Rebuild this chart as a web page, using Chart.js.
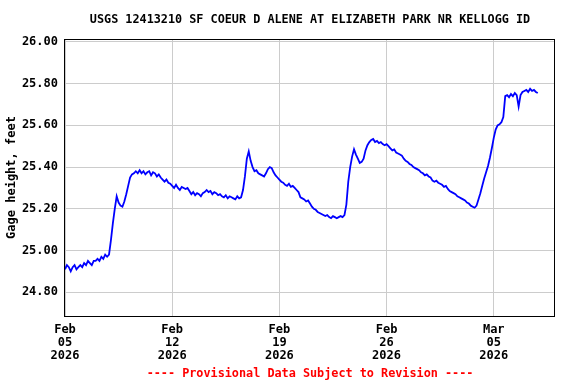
<!DOCTYPE html>
<html>
<head>
<meta charset="utf-8">
<title>USGS 12413210 gage height</title>
<script src="https://cdn.jsdelivr.net/npm/chart.js@4.4.1/dist/chart.umd.min.js"></script>
<style>
    html, body { margin: 0; padding: 0; background: #fff; }
    #chart { display: block; }
</style>
</head>
<body>
<canvas id="chart" width="576" height="384"></canvas>
<script>
    "use strict";

    var titleText = "USGS 12413210 SF COEUR D ALENE AT ELIZABETH PARK NR KELLOGG ID";
    var footerText = "---- Provisional Data Subject to Revision ----";
    var yTitle = "Gage height, feet";

    // readings every 3 hours starting Feb 05 2026 00:00, one row per day
    var stepHours = 3;
    var gageHeight = [
        24.91, 24.93, 24.92, 24.90, 24.92, 24.93, 24.91, 24.92,
        24.93, 24.92, 24.94, 24.93, 24.95, 24.94, 24.93, 24.95,
        24.95, 24.96, 24.95, 24.97, 24.96, 24.98, 24.97, 24.98,
        25.05, 25.13, 25.20, 25.26, 25.23, 25.215, 25.21, 25.235,
        25.27, 25.31, 25.35, 25.365, 25.37, 25.38, 25.37, 25.385,
        25.37, 25.38, 25.365, 25.375, 25.38, 25.36, 25.375, 25.37,
        25.355, 25.365, 25.35, 25.34, 25.33, 25.34, 25.325, 25.32,
        25.31, 25.30, 25.315, 25.30, 25.29, 25.305, 25.30, 25.295,
        25.30, 25.285, 25.27, 25.28, 25.265, 25.275, 25.27, 25.26,
        25.275, 25.28, 25.29, 25.28, 25.285, 25.27, 25.28, 25.275,
        25.265, 25.27, 25.26, 25.255, 25.265, 25.25, 25.26, 25.255,
        25.25, 25.245, 25.26, 25.25, 25.255, 25.29, 25.355, 25.44,
        25.475, 25.43, 25.40, 25.38, 25.385, 25.37, 25.365, 25.36,
        25.355, 25.37, 25.39, 25.40, 25.395, 25.375, 25.36, 25.35,
        25.34, 25.33, 25.325, 25.315, 25.31, 25.32, 25.305, 25.31,
        25.30, 25.29, 25.28, 25.255, 25.25, 25.245, 25.235, 25.24,
        25.225, 25.21, 25.20, 25.195, 25.185, 25.18, 25.175, 25.17,
        25.165, 25.17, 25.16, 25.155, 25.165, 25.16, 25.155, 25.16,
        25.165, 25.16, 25.17, 25.22, 25.33, 25.40, 25.45, 25.485,
        25.46, 25.44, 25.42, 25.425, 25.44, 25.48, 25.505, 25.52,
        25.53, 25.535, 25.52, 25.525, 25.515, 25.52, 25.51, 25.505,
        25.51, 25.50, 25.49, 25.48, 25.485, 25.47, 25.465, 25.46,
        25.455, 25.44, 25.43, 25.425, 25.415, 25.41, 25.40, 25.395,
        25.39, 25.385, 25.375, 25.37, 25.36, 25.365, 25.355, 25.35,
        25.335, 25.33, 25.335, 25.325, 25.32, 25.315, 25.305, 25.31,
        25.295, 25.285, 25.28, 25.275, 25.27, 25.26, 25.255, 25.25,
        25.245, 25.24, 25.23, 25.225, 25.215, 25.21, 25.205, 25.215,
        25.245, 25.275, 25.31, 25.345, 25.375, 25.405, 25.445, 25.49,
        25.54, 25.58, 25.60, 25.605, 25.615, 25.64, 25.74, 25.745,
        25.735, 25.75, 25.74, 25.755, 25.745, 25.69, 25.745, 25.76,
        25.765, 25.77, 25.76, 25.775, 25.765, 25.77, 25.76, 25.755
    ];

    // x axis in days since Feb 05 2026
    var xTickDays = [0, 7, 14, 21, 28];
    var xTickMonths = ["Feb", "Feb", "Feb", "Feb", "Mar"];
    var xTickDates = ["05", "12", "19", "26", "05"];
    var xTickYears = ["2026", "2026", "2026", "2026", "2026"];
    var yTicks = [24.80, 25.00, 25.20, 25.40, 25.60, 25.80, 26.00];

    var points = gageHeight.map(function (v, i) {
        return { x: i * stepHours / 24, y: v };
    });

    var monoFont = "'DejaVu Sans Mono', 'Liberation Mono', monospace";

    // Title, footer and the black frame round the plot
    var decorations = {
        id: "decorations",
        afterDraw: function (chart) {
            var c = chart.ctx, a = chart.chartArea;
            var mid = (a.left + a.right) / 2;
            c.save();
            c.strokeStyle = "#000";
            c.lineWidth = 1;
            c.strokeRect(Math.round(a.left) - 0.5, Math.round(a.top) + 0.5,
                Math.round(a.right - a.left), Math.round(a.bottom - a.top));
            c.textAlign = "center";
            c.textBaseline = "middle";
            c.font = "bold 11.8px " + monoFont;
            c.fillStyle = "#000";
            c.fillText(titleText, mid, 20);
            c.fillStyle = "#ff0000";
            c.fillText(footerText, mid, 374);
            c.restore();
        }
    };

    var ctx = document.getElementById("chart").getContext("2d");
    var gageChart = new Chart(ctx, {
        type: "line",
        data: {
            datasets: [{
                data: points,
                borderColor: "#0000ff",
                borderWidth: 1.8,
                pointRadius: 0,
                tension: 0,
                fill: false
            }]
        },
        options: {
            responsive: false,
            animation: false,
            events: [],
            layout: { padding: { top: 39, right: 21, left: 0, bottom: 0 } },
            plugins: { legend: { display: false }, tooltip: { enabled: false } },
            scales: {
                x: {
                    type: "linear",
                    min: 0,
                    max: 32,
                    border: { display: false },
                    grid: { color: "#cccccc", lineWidth: 1, drawTicks: false },
                    afterBuildTicks: function (scale) {
                        scale.ticks = xTickDays.map(function (d) { return { value: d }; });
                    },
                    afterFit: function (scale) { scale.height = 68; },
                    ticks: {
                        autoSkip: false,
                        maxRotation: 0,
                        padding: 7,
                        color: "#000",
                        font: { family: monoFont, size: 12, weight: "bold", lineHeight: 1.1 },
                        callback: function (value) {
                            var i = xTickDays.indexOf(value);
                            return i < 0 ? "" : [xTickMonths[i], xTickDates[i], xTickYears[i]];
                        }
                    }
                },
                y: {
                    min: 24.686,
                    max: 26.014,
                    border: { display: false },
                    grid: { color: "#cccccc", lineWidth: 1, drawTicks: false },
                    afterBuildTicks: function (scale) {
                        scale.ticks = yTicks.map(function (v) { return { value: v }; });
                    },
                    afterFit: function (scale) { scale.width = 65; },
                    title: {
                        display: true,
                        text: yTitle,
                        color: "#000",
                        padding: { top: 5, bottom: 0 },
                        font: { family: monoFont, size: 12, weight: "bold" }
                    },
                    ticks: {
                        padding: 7,
                        color: "#000",
                        font: { family: monoFont, size: 12, weight: "bold" },
                        callback: function (value) { return Number(value).toFixed(2); }
                    }
                }
            }
        },
        plugins: [decorations]
    });
</script>
</body>
</html>
